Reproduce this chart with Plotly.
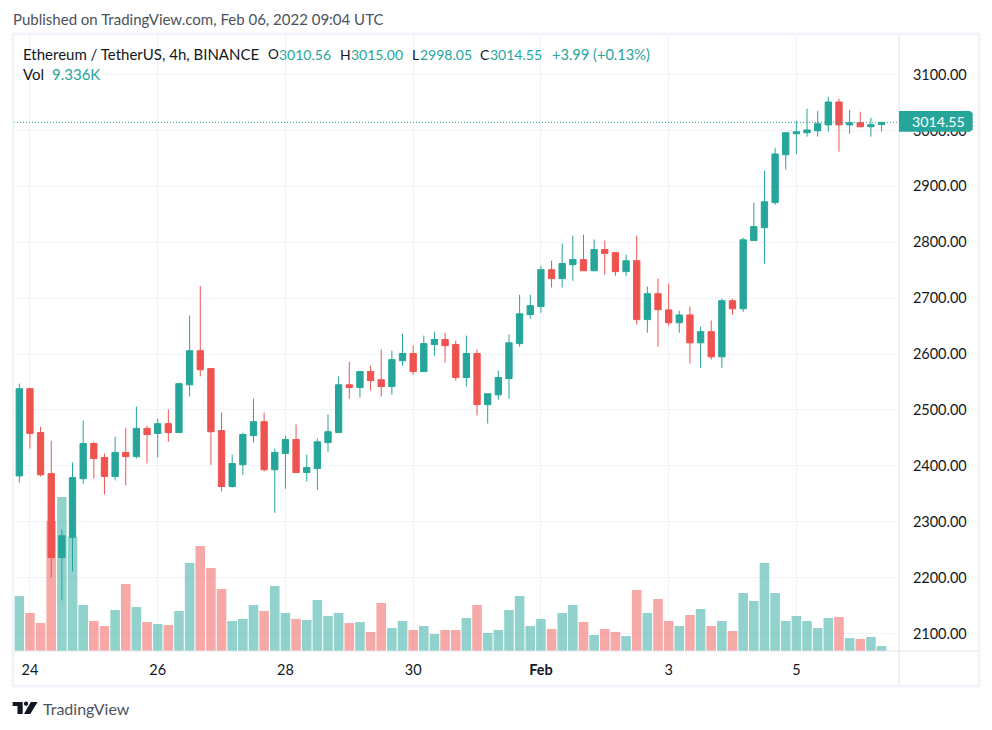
import pandas as pd
import plotly.graph_objects as go

W, H = 992, 730
TEAL = "#26a69a"
RED = "#ef5350"
GRID = "#f0f3fa"
FRAME = "#f0f3fa"
AXIS_LINE = "#e0e3eb"
TEXT = "#131722"
FONT = "Lato"

# ETHUSDT 4h bars
opens = [
    2382, 2538, 2459.5, 2386, 2236, 2272, 2377, 2440, 2415, 2381,
    2424, 2416.5, 2467, 2458, 2475.5, 2459.5, 2545, 2606, 2574, 2463,
    2363, 2402, 2454, 2479, 2393, 2422, 2447, 2388, 2395, 2441.5,
    2459.5, 2545, 2540, 2568.6, 2554, 2542, 2588, 2601, 2568.6, 2617,
    2626, 2617, 2558, 2601, 2509.5, 2527, 2556, 2618.7, 2670.5, 2685,
    2751, 2735, 2760, 2769, 2749, 2787, 2781.5, 2747.5, 2767, 2661.6,
    2708, 2679, 2656, 2670, 2620, 2640, 2595, 2695.4, 2681, 2803,
    2826, 2871, 2956.6, 2994, 2996, 2999.5, 3010, 3051, 3010, 3014,
    3006.7, 3010.56,
]
highs = [
    2547, 2540, 2470, 2445, 2286, 2406, 2481, 2443, 2422, 2452,
    2468, 2506, 2472, 2484.5, 2500.6, 2549, 2669, 2722, 2574, 2495,
    2420, 2459.5, 2520, 2495, 2431, 2454, 2474, 2420, 2449, 2492,
    2560, 2586, 2570, 2579, 2608, 2606, 2636.6, 2615, 2633, 2640,
    2638, 2624, 2633, 2608, 2529, 2570, 2635, 2706, 2706, 2758,
    2767, 2797.5, 2812, 2813.6, 2805, 2803, 2781.5, 2778, 2812, 2720.6,
    2735, 2726, 2677.5, 2685, 2649, 2660, 2699, 2699, 2808, 2870.7,
    2928, 2969, 2996, 3017, 3039, 3035, 3060, 3057, 3037, 3033.5,
    3022.8, 3015,
]
lows = [
    2370, 2431, 2381, 2200, 2159, 2211, 2368, 2377, 2349, 2374,
    2365, 2413, 2404, 2415, 2443, 2459, 2524, 2560, 2402, 2354,
    2361, 2384, 2441.5, 2390, 2316, 2359, 2388, 2372, 2357, 2425,
    2459, 2520, 2522, 2534.6, 2524, 2527, 2579, 2563, 2568, 2597,
    2584.7, 2552.5, 2542, 2490, 2475.5, 2518.5, 2520, 2613, 2663, 2674,
    2719, 2719, 2731, 2749, 2749, 2742, 2740, 2740, 2652.7, 2638,
    2613, 2651, 2638, 2583, 2575.5, 2590, 2575.5, 2670, 2675.7, 2803,
    2761.6, 2867, 2930, 2958, 2989, 2989, 2998, 2962, 2994, 3006,
    2989, 2998.05,
]
closes = [
    2538, 2458, 2384, 2236, 2275, 2379, 2440, 2413, 2381, 2424,
    2416.5, 2467, 2456, 2475.5, 2459.5, 2547, 2606, 2572, 2461, 2363,
    2404, 2456, 2479, 2393, 2424, 2447, 2388, 2397, 2443, 2461,
    2545, 2540, 2568.6, 2552.5, 2542, 2590, 2601, 2568.6, 2618.7, 2626,
    2615, 2558, 2601, 2509.5, 2529, 2558, 2620, 2672, 2686.6, 2751,
    2735, 2762, 2769, 2749, 2787, 2780, 2747.5, 2767, 2661.6, 2708,
    2679.5, 2656, 2670, 2620, 2640, 2595, 2695.4, 2681, 2804.5, 2828,
    2872.5, 2958, 2996, 2997.7, 3001, 3012, 3051, 3010, 3014, 3006.7,
    3010.3, 3014.55,
]
volumes_k = [
    102.7, 71.0, 52.3, 242.7, 287.5, 212.9, 85.9, 56.0, 46.7, 76.6,
    125.1, 82.2, 54.1, 50.4, 48.5, 74.7, 164.3, 196.1, 155.0, 115.8,
    56.0, 59.8, 85.9, 74.7, 121.4, 71.0, 59.8, 57.9, 95.2, 65.4,
    71.0, 52.3, 54.1, 35.5, 89.6, 42.9, 56.0, 39.2, 46.7, 31.7,
    39.2, 39.2, 61.6, 85.9, 33.6, 39.2, 76.6, 102.7, 46.7, 59.8,
    41.1, 71.0, 85.9, 54.1, 29.9, 41.1, 35.5, 28.0, 113.9, 71.0,
    97.1, 56.0, 46.7, 67.2, 78.4, 46.7, 56.0, 37.3, 108.3, 93.4,
    164.3, 108.3, 56.0, 65.4, 56.0, 42.9, 61.6, 63.5, 24.3, 22.4,
    26.1, 9.336,
]
bar_times = pd.date_range("2022-01-23 20:00", periods=len(closes), freq="4h")

date_ticks = ["2022-01-24", "2022-01-26", "2022-01-28", "2022-01-30",
              "2022-02-01", "2022-02-03", "2022-02-05"]
date_labels = ["24", "26", "28", "30", "<b>Feb</b>", "3", "5"]
price_ticks = [2100, 2200, 2300, 2400, 2500, 2600, 2700, 2800, 2900, 3000, 3100]

# pixel layout of the TradingView snapshot
PLOT_L, PLOT_R, PLOT_T, PLOT_B = 14, 899, 35, 651
BAR_PX = 10.645
FIRST_BAR_PX = 19.3


def px(x):
    return x / W


def py(y):
    return 1 - y / H


def label(x, y, text, color=TEXT, size=15, font=FONT):
    # annotations carry 2px of padding, take it back off
    return dict(xref="paper", yref="paper", x=px(x - 2), y=py(y), text=text,
                showarrow=False, xanchor="left", yanchor="middle",
                font=dict(family=font, size=size, color=color))


def shape_rect(x0, y0, x1, y1, **kw):
    return dict(type="rect", xref="paper", yref="paper", x0=px(x0), x1=px(x1),
                y0=py(y0), y1=py(y1), **kw)


def shape_path(points, color):
    path = "M " + " L ".join(f"{px(a):.5f},{py(b):.5f}" for a, b in points) + " Z"
    return dict(type="path", xref="paper", yref="paper", path=path,
                fillcolor=color, line=dict(width=0))


vol_colors = [(TEAL if c >= o else RED) for o, c in zip(opens, closes)]

fig = go.Figure()

# volume sits on the base axis so the candles stay on top of it
fig.add_trace(go.Bar(
    x=bar_times, y=volumes_k, yaxis="y",
    marker=dict(color=vol_colors, opacity=0.5, line=dict(width=0)),
    hoverinfo="skip", showlegend=False,
))
fig.add_trace(go.Candlestick(
    x=bar_times, open=opens, high=highs, low=lows, close=closes, yaxis="y2",
    increasing=dict(line=dict(color=TEAL, width=1), fillcolor=TEAL),
    decreasing=dict(line=dict(color=RED, width=1), fillcolor=RED),
    whiskerwidth=0, showlegend=False,
))

# axis ranges follow from the pixel grid above
ms_per_px = 4 * 3600 * 1000 / BAR_PX
x_left = bar_times[0] + pd.Timedelta(milliseconds=(PLOT_L - FIRST_BAR_PX) * ms_per_px)
x_right = bar_times[0] + pd.Timedelta(milliseconds=(PLOT_R - FIRST_BAR_PX) * ms_per_px)
price_per_px = 100 / 55.89
price_top = 2100 + (633.5 - PLOT_T) * price_per_px
price_bottom = 2100 + (633.5 - PLOT_B) * price_per_px
vol_top = (PLOT_B - PLOT_T) * 1.8672

shapes = [
    # price line and last price tag
    dict(type="line", xref="paper", yref="y2", x0=px(PLOT_L), x1=px(PLOT_R),
         y0=closes[-1], y1=closes[-1], line=dict(color=TEAL, width=1, dash="1px,2px")),
    # frame and axis separators
    shape_rect(13, 34, 979, 686, line=dict(color=FRAME, width=2.5)),
    dict(type="line", xref="paper", yref="paper", x0=px(PLOT_R), x1=px(PLOT_R),
         y0=py(PLOT_T), y1=py(685), line=dict(color=AXIS_LINE, width=1)),
    dict(type="line", xref="paper", yref="paper", x0=px(PLOT_L), x1=px(978),
         y0=py(PLOT_B), y1=py(PLOT_B), line=dict(color=AXIS_LINE, width=1)),
    # logo
    shape_path([(12.7, 702), (22.7, 702), (22.7, 714), (17.5, 714), (17.5, 706), (12.7, 706)], TEXT),
    dict(type="circle", xref="paper", yref="paper", x0=px(23.9), x1=px(28.2),
         y0=py(701.6), y1=py(705.9), fillcolor=TEXT, line=dict(width=0)),
    shape_path([(30.8, 702), (37.6, 702), (30.3, 714), (24, 714)], TEXT),
    # tag box goes last so it covers the 3000 tick label
    shape_path([(899, 111), (970, 111), (972.7, 113), (972.7, 129.7), (970, 131.7), (899, 131.7)], TEAL),
]

annotations = [
    label(13, 19, "Published on TradingView.com, Feb 06, 2022 09:04 UTC", color="#4c525e"),
    label(23, 54, "Ethereum / TetherUS, 4h, BINANCE"),
    label(268, 54, "O", size=13.5), label(279, 54, "3010.56", TEAL, size=14),
    label(340, 54, "H", size=14), label(351, 54, "3015.00", TEAL, size=14),
    label(412, 54, "L", size=14), label(420, 54, "2998.05", TEAL, size=14),
    label(480, 54, "C", size=14), label(490, 54, "3014.55", TEAL, size=14),
    label(552, 54, "+3.99 (+0.13%)", TEAL, size=14.6),
    label(23, 74, "Vol"), label(52, 74, "9.336K", TEAL),
    label(912, 121.5, "3014.55", "#ffffff", size=14.2),
    label(43, 708.5, "TradingView", "#4c525e", size=16),
]

fig.update_layout(
    width=W, height=H, margin=dict(l=0, r=0, t=0, b=0),
    paper_bgcolor="#ffffff", plot_bgcolor="#ffffff",
    font=dict(family=FONT, size=14.5, color=TEXT),
    showlegend=False, bargap=0.1, boxgap=0.15,
    shapes=shapes, annotations=annotations,
    xaxis=dict(
        domain=[px(PLOT_L), px(PLOT_R)], type="date",
        range=[x_left, x_right], rangeslider=dict(visible=False),
        tickmode="array", tickvals=date_ticks, ticktext=date_labels,
        showgrid=True, gridcolor=GRID, gridwidth=1, showline=False, zeroline=False,
        ticks="outside", ticklen=6, tickcolor="#ffffff",
        tickfont=dict(family=FONT, size=14.5, color=TEXT),
    ),
    yaxis=dict(
        domain=[py(PLOT_B), py(PLOT_T)], range=[0, vol_top],
        showgrid=False, showticklabels=False, zeroline=False, showline=False,
    ),
    yaxis2=dict(
        overlaying="y", side="right", anchor="x",
        range=[price_bottom, price_top],
        tickmode="array", tickvals=price_ticks, tickformat=".2f",
        showgrid=True, gridcolor=GRID, gridwidth=1, showline=False, zeroline=False,
        ticks="outside", ticklen=10, tickcolor="#ffffff",
        tickfont=dict(family=FONT, size=14.5, color=TEXT),
    ),
)

fig.write_html("out.html", config=dict(displayModeBar=False),
               post_script="document.body.style.margin='0';")
